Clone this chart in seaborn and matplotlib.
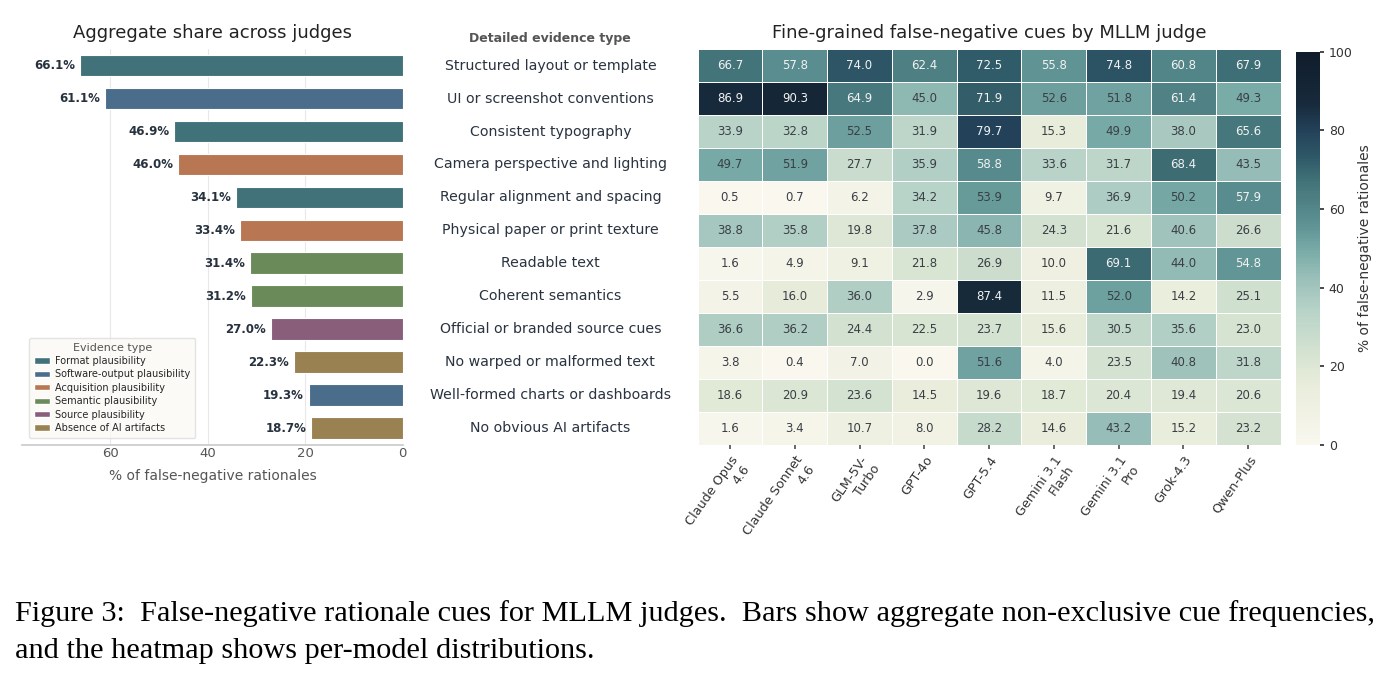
import matplotlib
matplotlib.use('Agg')

import matplotlib.pyplot as plt
import seaborn as sns
import pandas as pd
import numpy as np
from matplotlib.colors import LinearSegmentedColormap
from matplotlib.patches import Patch

# ---- data ----
cues = ['Structured layout or template', 'UI or screenshot conventions', 'Consistent typography',
        'Camera perspective and lighting', 'Regular alignment and spacing', 'Physical paper or print texture',
        'Readable text', 'Coherent semantics', 'Official or branded source cues',
        'No warped or malformed text', 'Well-formed charts or dashboards', 'No obvious AI artifacts']
aggregate = [66.1, 61.1, 46.9, 46.0, 34.1, 33.4, 31.4, 31.2, 27.0, 22.3, 19.3, 18.7]
cue_type = ['Format plausibility', 'Software-output plausibility', 'Format plausibility',
            'Acquisition plausibility', 'Format plausibility', 'Acquisition plausibility',
            'Semantic plausibility', 'Semantic plausibility', 'Source plausibility',
            'Absence of AI artifacts', 'Software-output plausibility', 'Absence of AI artifacts']
evidence_types = ['Format plausibility', 'Software-output plausibility', 'Acquisition plausibility',
                  'Semantic plausibility', 'Source plausibility', 'Absence of AI artifacts']
judges = ['Claude Opus\n4.6', 'Claude Sonnet\n4.6', 'GLM-5V-\nTurbo', 'GPT-4o', 'GPT-5.4',
          'Gemini 3.1\nFlash', 'Gemini 3.1\nPro', 'Grok-4.3', 'Qwen-Plus']
per_judge = [
    [66.7, 57.8, 74.0, 62.4, 72.5, 55.8, 74.8, 60.8, 67.9],
    [86.9, 90.3, 64.9, 45.0, 71.9, 52.6, 51.8, 61.4, 49.3],
    [33.9, 32.8, 52.5, 31.9, 79.7, 15.3, 49.9, 38.0, 65.6],
    [49.7, 51.9, 27.7, 35.9, 58.8, 33.6, 31.7, 68.4, 43.5],
    [0.5, 0.7, 6.2, 34.2, 53.9, 9.7, 36.9, 50.2, 57.9],
    [38.8, 35.8, 19.8, 37.8, 45.8, 24.3, 21.6, 40.6, 26.6],
    [1.6, 4.9, 9.1, 21.8, 26.9, 10.0, 69.1, 44.0, 54.8],
    [5.5, 16.0, 36.0, 2.9, 87.4, 11.5, 52.0, 14.2, 25.1],
    [36.6, 36.2, 24.4, 22.5, 23.7, 15.6, 30.5, 35.6, 23.0],
    [3.8, 0.4, 7.0, 0.0, 51.6, 4.0, 23.5, 40.8, 31.8],
    [18.6, 20.9, 23.6, 14.5, 19.6, 18.7, 20.4, 19.4, 20.6],
    [1.6, 3.4, 10.7, 8.0, 28.2, 14.6, 43.2, 15.2, 23.2],
]

type_colors = ['#41727a', '#4a6d8b', '#b87652', '#6b8a5a', '#885e7b', '#9a8152']

sns.set_theme(style='whitegrid')
plt.rcParams['font.family'] = ['DejaVu Sans']

fig = plt.figure(figsize=(13.98, 6.82), dpi=100)
ax_bar = fig.add_axes([0.016, 0.348, 0.272, 0.58])
ax_hm = fig.add_axes([0.499, 0.348, 0.417, 0.58])
ax_cb = fig.add_axes([0.927, 0.348, 0.017, 0.576])

# ---- left: aggregate bars ----
bar_df = pd.DataFrame({'cue': cues, 'share': aggregate, 'type': cue_type})
sns.barplot(data=bar_df, y='cue', x='share', hue='type', hue_order=evidence_types,
            palette=type_colors, saturation=1, dodge=False, width=0.66, edgecolor='white',
            linewidth=0.8, ax=ax_bar, legend=False)
ax_bar.set_xlim(78, 0)
ax_bar.set_xticks([60, 40, 20, 0])
ax_bar.tick_params(axis='x', labelsize=9.5, colors='#555555', pad=2, length=0)
ax_bar.set_yticklabels([])
ax_bar.set_ylabel('')
ax_bar.tick_params(axis='y', length=0)
ax_bar.set_xlabel('% of false-negative rationales', fontsize=10, color='#555555', labelpad=6)
ax_bar.set_title('Aggregate share across judges', fontsize=13, color='#222222', pad=8)
ax_bar.grid(axis='y', visible=False)
ax_bar.grid(axis='x', color='#e8e8e8', linewidth=0.8)
for s in ['left', 'right', 'top']:
    ax_bar.spines[s].set_visible(False)
ax_bar.spines['bottom'].set_color('#cccccc')
for i, v in enumerate(aggregate):
    ax_bar.text(v + 1.0, i, f'{v:.1f}%', ha='right', va='center', fontsize=8.5,
                fontweight='bold', color='#27323f')
handles = [Patch(facecolor=c, label=t) for c, t in zip(type_colors, evidence_types)]
leg = ax_bar.legend(handles=handles, title='Evidence type', loc='lower left',
                    bbox_to_anchor=(0.005, 0.005), fontsize=7, title_fontsize=8,
                    frameon=True, handlelength=1.6, handleheight=0.6, labelspacing=0.35,
                    borderpad=0.5, handletextpad=0.6)
leg.get_frame().set_facecolor('#faf9f6')
leg.get_frame().set_edgecolor('#dddddd')
leg.get_title().set_color('#555555')

# ---- right: heatmap ----
stops = [0, 15, 22, 34, 44, 50, 56, 67, 73, 80, 87, 100]
stop_colors = ['#f9f7ee', '#e9eddb', '#d8e4d2', '#b8d3c8', '#93bbb5', '#76a9a6', '#5e9293',
               '#427378', '#2f5967', '#23425a', '#172a3b', '#101c2c']
cmap = LinearSegmentedColormap.from_list('cues', list(zip([s / 100 for s in stops], stop_colors)))
hm_df = pd.DataFrame(per_judge, index=cues, columns=judges)
sns.heatmap(hm_df, ax=ax_hm, cbar_ax=ax_cb, cmap=cmap, vmin=0, vmax=100,
            annot=False, linewidths=0.7, linecolor='white')
for i, row in enumerate(per_judge):
    for j, v in enumerate(row):
        ax_hm.text(j + 0.5, i + 0.5, f'{v:.1f}', ha='center', va='center', fontsize=8.5,
                   color='#f2f2f2' if v > 54 else '#3a3f45')
ax_hm.set_title('Fine-grained false-negative cues by MLLM judge', fontsize=13,
                color='#222222', pad=8)
ax_hm.tick_params(axis='y', length=0, pad=106, labelsize=10.2, labelcolor='#2a3340')
for lab in ax_hm.get_yticklabels():
    lab.set_horizontalalignment('center')
    lab.set_rotation(0)
ax_hm.set_xticklabels(ax_hm.get_xticklabels(), rotation=55, ha='right',
                      rotation_mode='anchor', fontsize=9.2, color='#333333')
ax_hm.tick_params(axis='x', length=3, color='#555555', bottom=True)
ax_hm.set_xlabel('')
ax_hm.set_ylabel('')
fig.text(0.393, 0.944, 'Detailed evidence type', ha='center', va='center', fontsize=9,
         fontweight='bold', color='#555555')

cb = ax_hm.collections[0].colorbar
cb.set_ticks([0, 20, 40, 60, 80, 100])
cb.ax.tick_params(labelsize=9, colors='#333333', length=3)
cb.outline.set_visible(False)
cb.set_label('% of false-negative rationales', fontsize=10, color='#333333', labelpad=4)

# ---- caption ----
fig.text(0.011, 0.100, 'Figure 3:  False-negative rationale cues for MLLM judges.  Bars show aggregate '
         'non-exclusive cue frequencies,', fontsize=21.8, family='Liberation Serif',
         color='black', ha='left', va='center')
fig.text(0.011, 0.045, 'and the heatmap shows per-model distributions.', fontsize=21.8,
         family='Liberation Serif', color='black', ha='left', va='center')

fig.savefig('out.png', dpi=100)
